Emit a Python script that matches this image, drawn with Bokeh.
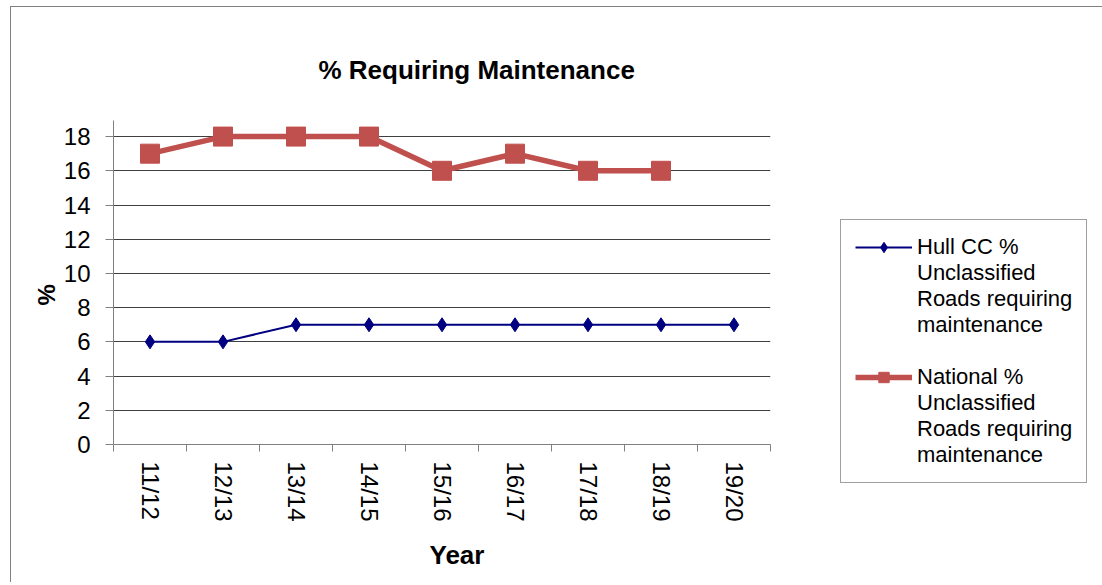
import math
from bokeh.plotting import figure
from bokeh.models import Range1d, FixedTicker, Legend, LegendItem, Title
from bokeh.embed import file_html
from bokeh.resources import INLINE

# ---- data ----
years = ["11/12", "12/13", "13/14", "14/15", "15/16", "16/17", "17/18", "18/19", "19/20"]
hull = [6, 6, 7, 7, 7, 7, 7, 7, 7]
national = [17, 18, 18, 18, 16, 17, 16, 16]
y_ticks = [0, 2, 4, 6, 8, 10, 12, 14, 16, 18]

title_text = "% Requiring Maintenance"
x_title = "Year"
y_title = "%"
hull_label = ["Hull CC %", "Unclassified", "Roads requiring", "maintenance"]
nat_label = ["National %", "Unclassified", "Roads requiring", "maintenance"]

FONT = "Liberation Sans"
HULL_COLOR = "#000080"
NAT_COLOR = "#C0504D"
BORDER = "1px solid #808080"
HULL_LINE = dict(line_color=HULL_COLOR, line_width=2)
HULL_PT = dict(marker="diamond", size=14, fill_color=HULL_COLOR, line_color=HULL_COLOR)
NAT_LINE = dict(line_color=NAT_COLOR, line_width=5.5)
NAT_PT = dict(marker="square", size=19, fill_color=NAT_COLOR, line_color=NAT_COLOR)

H = 576
W1, W2 = 820, 274
p = figure(width=W1, height=H, output_backend="svg", toolbar_location=None,
           x_range=Range1d(0, len(years)), y_range=Range1d(0, 18.94),
           min_border_left=102, min_border_right=W1 - 102 - 657, min_border_top=113,
           min_border_bottom=139)
p.title.visible = False
p.outline_line_color = None
p.styles = {"border-left": BORDER, "border-top": BORDER,
            "margin-left": "10px", "margin-top": "6px"}

hx = [i + 0.5 for i in range(len(hull))]
nx = [i + 0.5 for i in range(len(national))]

p.line(hx, hull, **HULL_LINE)
p.scatter(hx, hull, **HULL_PT)
p.line(nx, national, **NAT_LINE)
p.scatter(nx, national, **NAT_PT)

# axes
xa = p.xaxis[0]
xa.ticker = FixedTicker(ticks=hx, minor_ticks=list(range(len(years) + 1)))
xa.major_label_overrides = {x: y for x, y in zip(hx, years)}
xa.major_tick_line_color = None
xa.minor_tick_in = 0
xa.minor_tick_out = 7
xa.minor_tick_line_color = "#808080"
xa.axis_line_color = "#808080"
xa.major_label_orientation = -math.pi / 2
xa.major_label_standoff = 10
xa.major_label_text_font = FONT
xa.major_label_text_font_size = "24px"
xa.major_label_text_color = "black"

ya = p.yaxis[0]
ya.ticker = FixedTicker(ticks=y_ticks)
ya.minor_tick_line_color = None
ya.major_tick_in = 0
ya.major_tick_out = 8
ya.major_tick_line_color = "#808080"
ya.axis_line_color = "#808080"
ya.major_label_standoff = 15
ya.major_label_text_font = FONT
ya.major_label_text_font_size = "24px"
ya.major_label_text_color = "black"

p.xgrid.visible = False
p.ygrid.ticker = FixedTicker(ticks=y_ticks[1:])
p.ygrid.grid_line_color = "#404040"
p.ygrid.grid_line_width = 1

# titles in side panels
common = dict(text_font=FONT, text_font_style="bold", text_color="black", align="left")
p.add_layout(Title(text=title_text, text_font_size="26px", offset=205, standoff=71, **common), "above")
p.add_layout(Title(text=x_title, text_font_size="26px", offset=316, standoff=27, **common), "below")
p.add_layout(Title(text=y_title, text_font_size="24px", offset=139, standoff=2, **common), "left")

# legend figure (placed to the right of the chart)
q = figure(width=W2, height=H, output_backend="svg", toolbar_location=None,
           x_range=Range1d(0, 1), y_range=Range1d(0, 1),
           x_axis_type=None, y_axis_type=None,
           min_border_left=0, min_border_right=0, min_border_top=0, min_border_bottom=0)
q.title.visible = False
q.outline_line_color = None
q.xgrid.visible = False
q.ygrid.visible = False
q.background_fill_alpha = 0
q.border_fill_alpha = 0
q.styles = {"position": "absolute", "left": "828px", "top": "6px", "border-top": BORDER}

# same series drawn outside q's visible range, so only their legend glyphs show
l_hl = q.line(hx, hull, **HULL_LINE)
l_hp = q.scatter(hx, hull, **HULL_PT)
l_nl = q.line(nx, national, **NAT_LINE)
l_np = q.scatter(nx, national, **NAT_PT)
dummy = q.line(x=[], y=[], line_alpha=0)

items = [LegendItem(label=hull_label[0], renderers=[l_hl, l_hp])]
items += [LegendItem(label=t, renderers=[dummy]) for t in hull_label[1:]]
items += [LegendItem(label=" ", renderers=[dummy])]
items += [LegendItem(label=nat_label[0], renderers=[l_nl, l_np])]
items += [LegendItem(label=t, renderers=[dummy]) for t in nat_label[1:]]
legend = Legend(items=items, location=(12, 100), margin=0, padding=14, spacing=0,
                glyph_width=57, glyph_height=26, label_height=26, label_standoff=5,
                label_text_font=FONT, label_text_font_size="22px", label_text_color="black",
                border_line_color="#404040", border_line_width=1)
q.add_layout(legend)

open("out.html", "w").write(file_html([p, q], INLINE))
